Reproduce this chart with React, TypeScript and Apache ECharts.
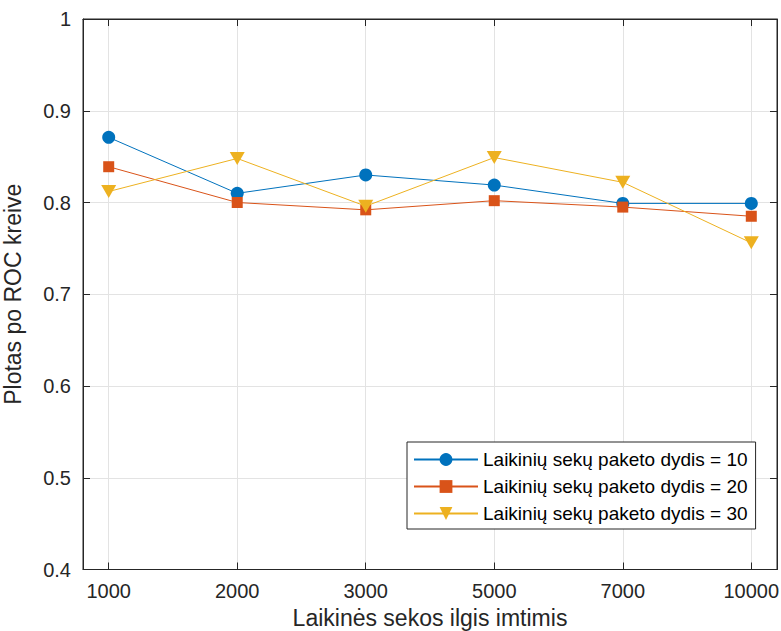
import React, { useEffect, useRef } from "react";
import * as echarts from "echarts";

const categories = ["1000", "2000", "3000", "5000", "7000", "10000"];
const batch10 = [0.871, 0.81, 0.83, 0.819, 0.799, 0.799];
const batch20 = [0.839, 0.8, 0.792, 0.802, 0.795, 0.785];
const batch30 = [0.812, 0.848, 0.796, 0.849, 0.822, 0.756];
const seriesNames = [
  "Laikinių sekų paketo dydis = 10",
  "Laikinių sekų paketo dydis = 20",
  "Laikinių sekų paketo dydis = 30",
];
const positions = categories.map((_, i) => i + 1);

const FONT = "'Liberation Sans', Arial, Helvetica, sans-serif";
const DARK = "#262626";

export default function App() {
  const ref = useRef<HTMLDivElement>(null);
  useEffect(() => {
    if (!ref.current) return;
    const chart = echarts.init(ref.current, null, { renderer: "svg" });
    const toData = (arr: number[]) => arr.map((v, i) => [positions[i], v]);
    const tickCommon = { inside: true, length: 7, lineStyle: { color: DARK, width: 1 } };
    chart.setOption({
      animation: false,
      backgroundColor: "#ffffff",
      textStyle: { fontFamily: FONT },
      grid: {
        left: 83,
        top: 19,
        right: 4,
        bottom: 61.5,
        containLabel: false,
        outerBoundsMode: "none",
        show: true,
        borderColor: DARK,
        borderWidth: 1,
        backgroundColor: "#ffffff",
      },
      legend: {
        orient: "vertical",
        left: 407,
        top: 442,
        padding: [8, 8, 6, 6],
        itemWidth: 64,
        itemHeight: 16,
        itemGap: 8,
        backgroundColor: "#ffffff",
        borderColor: DARK,
        borderWidth: 1,
        borderRadius: 0,
        textStyle: { fontSize: 19, color: "#000000", fontFamily: FONT },
        data: seriesNames,
      },
      xAxis: [
        {
          type: "value",
          min: 0.8,
          max: 6.2,
          name: "Laikinės sekos ilgis imtimis",
          nameLocation: "middle",
          nameGap: 36,
          nameTextStyle: { fontSize: 23, lineHeight: 24, color: DARK, fontFamily: FONT },
          axisLine: { show: true, lineStyle: { color: DARK, width: 1 } },
          axisTick: { ...tickCommon, customValues: positions },
          axisLabel: {
            customValues: positions,
            margin: 11,
            fontSize: 20,
            color: DARK,
            fontFamily: FONT,
            formatter: (v: number) => categories[Math.round(v) - 1] ?? "",
          },
          splitLine: { show: true, lineStyle: { color: "#e3e3e3", width: 1 } },
        },
        {
          type: "value",
          position: "top",
          min: 0.8,
          max: 6.2,
          axisLine: { show: true, lineStyle: { color: DARK, width: 1 } },
          axisTick: { ...tickCommon, customValues: positions },
          axisLabel: { show: false, customValues: positions },
          splitLine: { show: false },
        },
      ],
      yAxis: [
        {
          type: "value",
          min: 0.4,
          max: 1,
          interval: 0.1,
          name: "Plotas po ROC kreive",
          nameLocation: "middle",
          nameGap: 59,
          nameTextStyle: { fontSize: 23, color: DARK, fontFamily: FONT },
          axisLine: { show: true, lineStyle: { color: DARK, width: 1 } },
          axisTick: tickCommon,
          axisLabel: { margin: 12, fontSize: 20, color: DARK, fontFamily: FONT },
          splitLine: { show: true, lineStyle: { color: "#e3e3e3", width: 1 } },
        },
        {
          type: "value",
          position: "right",
          min: 0.4,
          max: 1,
          interval: 0.1,
          axisLine: { show: true, lineStyle: { color: DARK, width: 1 } },
          axisTick: tickCommon,
          axisLabel: { show: false },
          splitLine: { show: false },
        },
      ],
      series: [
        {
          name: seriesNames[0],
          type: "line",
          data: toData(batch10),
          symbol: "circle",
          symbolSize: 13,
          color: "#0072BD",
          lineStyle: { width: 1, color: "#0072BD" },
          itemStyle: { color: "#0072BD", borderWidth: 0 },
          z: 3,
        },
        {
          name: seriesNames[1],
          type: "line",
          data: toData(batch20),
          symbol: "rect",
          symbolSize: 11,
          color: "#D95319",
          lineStyle: { width: 1, color: "#D95319" },
          itemStyle: { color: "#D95319", borderWidth: 0 },
          z: 4,
        },
        {
          name: seriesNames[2],
          type: "line",
          data: toData(batch30),
          symbol: "triangle",
          symbolRotate: 180,
          symbolSize: [15, 13],
          color: "#EDB120",
          lineStyle: { width: 1, color: "#EDB120" },
          itemStyle: { color: "#EDB120", borderWidth: 0 },
          z: 5,
        },
      ],
    });
    return () => chart.dispose();
  }, []);
  return (
    <div
      ref={ref}
      style={{ position: "fixed", left: 0, top: 0, width: 781, height: 631 }}
    />
  );
}
